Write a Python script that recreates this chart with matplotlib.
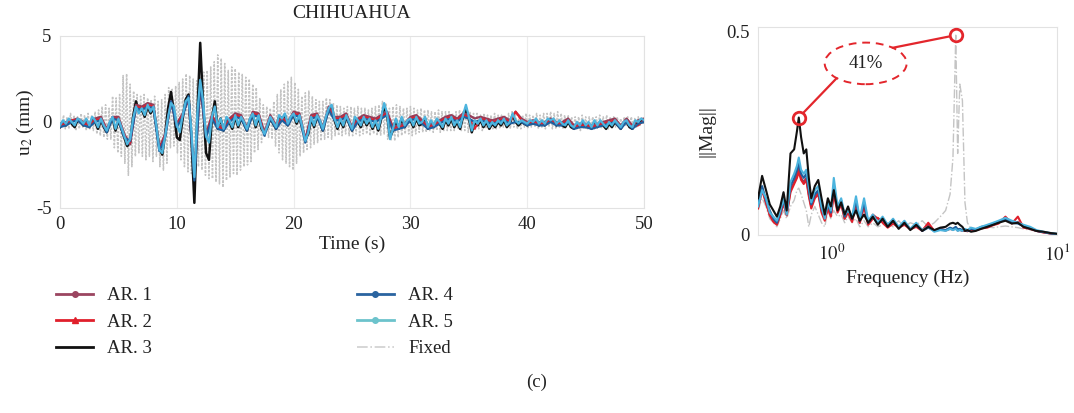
import numpy as np
import matplotlib
matplotlib.use("Agg")
import matplotlib.pyplot as plt
from matplotlib.lines import Line2D
from matplotlib.patches import Ellipse

plt.rcParams['font.family'] = ['Liberation Serif', 'DejaVu Serif']
plt.rcParams['mathtext.fontset'] = 'stix'
plt.rcParams['axes.unicode_minus'] = False

# ---- time histories (u2, mm) ----
dt_fine = 0.25
ar5 = [-0.2, 0.1, -0.1, 0.2, 0.0, -0.2, 0.2, 0.1, -0.1, 0.2, -0.2, 0.3, 0.1, -0.3, 0.2, -0.2,
       -0.5, 0.0, 0.3, -0.4, 0.2, -0.3, -0.8, -1.3, -1.0, 0.2, 0.9, 0.5, 0.8, 0.4, 1.0, 0.6,
       0.9, -0.2, -1.6, -1.8, -0.8, 0.3, 1.1, 0.9, -0.2, -0.6, 0.4, 1.2, 1.4, -0.5, -3.2, 0.5,
       2.45, 1.2, -0.8, -1.2, 0.3, 0.9, -0.3, 0.2, -0.4, 0.3, 0.1, -0.3, 0.4, -0.2, 0.3, 0.0,
       -0.4, 0.2, 0.5, -0.2, 0.4, -0.3, -0.7, -0.2, 0.3, 0.0, -0.3, 0.4, 0.2, 0.5, -0.1, 0.3,
       0.5, 0.0, 0.4, -0.3, -1.1, -0.6, 0.3, -0.2, 0.4, 0.1, -0.4, 0.3, 0.8, 1.0, 0.2, -0.3,
       0.2, -0.2, 0.4, 0.0, -0.4, 0.3, 0.1, -0.2, 0.3, -0.1, 0.2, -0.3, 0.1, -0.4, 0.3, 1.1,
       0.5, -1.0, -0.4, 0.2, -0.3, 0.3, -0.2, 0.1, 0.2, -0.2, 0.3, -0.1, 0.0, 0.3, -0.3, 0.1,
       -0.2, 0.2, 0.0, -0.3, 0.2, -0.1, 0.3, -0.2, 0.1, -0.3, 0.4, 1.0, 0.3, -0.5, 0.1, -0.1,
       0.2, -0.2, 0.1, -0.3, 0.0, -0.2, 0.1, -0.1, 0.2, -0.2, 0.0, 0.5, 0.1, -0.1, 0.1, 0.0,
       -0.1, 0.1, 0.0, 0.2, -0.1, 0.1, -0.1, 0.2, 0.1, 0.2, -0.1, 0.1, -0.1, -0.2, 0.1, -0.2,
       -0.3, 0.0, -0.2, 0.1, -0.2, 0.0, -0.3, 0.1, -0.2, 0.1, -0.1, -0.3, 0.0, -0.2, 0.1, -0.1,
       -0.3, 0.0, 0.1, -0.2, -0.3, 0.1, 0.0, 0.2, 0.1]
ar3 = [-0.3, 0.0, -0.2, 0.1, -0.1, -0.3, 0.1, 0.0, -0.2, 0.1, -0.3, 0.2, 0.0, -0.4, 0.1, -0.3,
       -0.6, -0.1, 0.2, -0.5, 0.1, -0.4, -0.9, -1.4, -1.2, 0.3, 1.2, 0.6, 0.7, 0.3, 0.9, 0.5,
       0.8, -0.3, -1.5, -1.9, -0.7, 0.8, 1.75, 0.6, -0.9, -1.05, 0.2, 1.3, 1.6, -1.0, -4.7, 0.3,
       4.6, 1.0, -1.8, -2.2, 0.2, 1.2, -0.4, 0.2, -0.5, 0.2, 0.0, -0.4, 0.3, -0.3, 0.2, -0.1,
       -0.5, 0.1, 0.4, -0.3, 0.3, -0.4, -0.6, -0.3, 0.2, -0.1, -0.4, 0.3, 0.1, 0.4, -0.2, 0.2,
       0.4, -0.1, 0.3, -0.4, -1.0, -0.7, 0.2, -0.3, 0.3, 0.0, -0.5, 0.2, 0.7, 0.9, 0.1, -0.4,
       0.1, -0.3, 0.3, -0.1, -0.5, 0.2, 0.0, -0.3, 0.2, -0.2, 0.1, -0.4, 0.0, -0.5, 0.2, 0.9,
       0.4, -0.9, -0.5, 0.1, -0.4, 0.2, -0.3, 0.0, 0.1, -0.3, 0.2, -0.2, -0.1, 0.2, -0.4, 0.0,
       -0.3, 0.1, -0.1, -0.4, 0.1, -0.2, 0.2, -0.3, 0.0, -0.4, 0.3, 0.8, 0.2, -0.6, 0.0, -0.2,
       0.1, -0.3, 0.0, -0.4, -0.1, -0.3, 0.0, -0.2, 0.1, -0.3, -0.1, 0.4, 0.0, -0.2, 0.0, -0.1,
       -0.2, 0.0, -0.1, 0.1, -0.2, 0.0, -0.2, 0.1, 0.0, 0.1, -0.2, 0.0, -0.2, -0.3, 0.0, -0.3,
       -0.4, -0.1, -0.3, 0.0, -0.3, -0.1, -0.4, 0.0, -0.3, 0.0, -0.2, -0.4, -0.1, -0.3, 0.0, -0.2,
       -0.4, -0.1, 0.0, -0.3, -0.4, 0.0, -0.1, 0.1, 0.0]

dt_coarse = 0.5
ar1 = [-0.1, 0.0, 0.1, 0.2, 0.0, -0.1, 0.2, 0.3, -0.4, 0.3,
       0.3, -0.7, -1.3, 1.0, 0.9, 1.1, 1.0, -1.5, -0.7, 1.2,
       -0.1, 0.5, 1.3, -3.0, 2.0, -0.7, 0.4, -0.2, -0.3, 0.2,
       0.5, 0.4, -0.3, 0.6, 0.5, -0.6, 0.4, -0.2, 0.3, 0.0,
       0.6, 0.5, -1.0, 0.4, 0.5, -0.3, 0.9, 0.3, 0.3, 0.5,
       -0.3, 0.2, 0.4, 0.3, 0.2, 0.4, 0.6, -0.3, -0.2, -0.1,
       0.3, 0.4, 0.1, -0.2, -0.1, 0.1, 0.3, 0.4, 0.2, 0.5,
       0.4, 0.2, 0.3, 0.2, 0.1, 0.2, 0.3, 0.1, 0.6, 0.2,
       0.0, 0.1, 0.0, 0.0, 0.2, 0.0, 0.0, 0.2, -0.2, -0.1,
       -0.1, -0.2, -0.1, 0.0, 0.1, 0.2, -0.2, 0.2, -0.2, 0.1, 0.2]
ar2 = [-0.2, -0.1, 0.1, 0.1, -0.1, -0.2, 0.1, 0.2, -0.5, 0.2,
       0.2, -0.8, -1.2, 0.9, 0.8, 1.0, 0.9, -1.6, -0.8, 1.1,
       -0.2, 0.4, 1.4, -3.1, 2.2, -0.8, 0.3, -0.3, -0.4, 0.1,
       0.4, 0.3, -0.4, 0.5, 0.4, -0.7, 0.3, -0.3, 0.2, -0.1,
       0.5, 0.4, -1.1, 0.3, 0.4, -0.4, 0.8, 0.2, 0.2, 0.4,
       -0.4, 0.1, 0.3, 0.2, 0.1, 0.3, 0.5, -0.4, -0.3, -0.2,
       0.2, 0.3, 0.0, -0.3, -0.2, 0.0, 0.2, 0.3, 0.1, 0.4,
       0.3, -0.4, 0.2, 0.1, 0.0, 0.1, 0.2, 0.0, 0.6, 0.1,
       -0.1, 0.0, -0.1, -0.1, 0.1, -0.1, -0.1, 0.1, -0.3, -0.2,
       -0.2, -0.3, -0.2, -0.1, 0.0, 0.1, -0.3, 0.1, -0.3, -0.2, 0.1]
ar4 = [-0.3, -0.2, 0.0, 0.1, -0.2, -0.3, 0.0, 0.1, -0.6, 0.2,
       0.1, -0.9, -1.1, 0.8, 0.7, 0.9, 0.8, -1.7, -0.9, 1.2,
       -0.3, 0.3, 1.5, -3.4, 2.3, -0.9, 0.2, -0.4, -0.5, 0.0,
       0.3, 0.2, -0.5, 0.4, 0.3, -0.8, 0.2, -0.4, 0.1, -0.2,
       0.4, 0.3, -1.2, 0.2, 0.3, -0.5, 0.7, 0.1, 0.1, 0.3,
       -0.5, 0.0, 0.2, 0.1, 0.0, 0.2, 0.4, -0.5, -0.4, -0.3,
       0.1, 0.2, -0.1, -0.4, -0.3, -0.1, 0.1, 0.2, 0.0, 0.3,
       0.2, 0.0, 0.1, 0.0, -0.1, 0.0, 0.1, -0.1, 0.0, 0.0,
       -0.2, -0.1, -0.2, -0.2, 0.0, -0.2, -0.2, 0.0, -0.4, -0.3,
       -0.3, -0.4, -0.3, -0.2, -0.1, 0.0, -0.4, 0.0, -0.4, -0.1, 0.0]

# fixed base: upper / lower swing every 0.3 s
dt_fixed = 0.3
fixed_up = [0.3, 0.4, 0.3, 0.5, 0.4, 0.3, 0.5, 0.4, 0.5, 0.4,
            0.6, 0.7, 0.9, 1.0, 0.8,
            1.5, 1.4, 1.6,
            2.7, 2.8, 2.2,
            1.8, 1.6, 1.5,
            1.6, 1.4, 1.3, 1.5,
            1.2, 1.3, 1.6,
            2.0, 1.9, 2.1, 2.3, 2.5, 2.8, 2.7, 2.5, 2.4, 2.6, 2.9, 3.0,
            3.2, 3.5, 3.9, 3.7, 3.4, 3.0, 3.2, 3.1, 2.9, 2.8, 2.6, 2.5,
            2.2, 2.0, 1.4, 1.0, 0.9, 0.8, 1.2, 1.6, 1.9, 2.2, 2.4, 2.6,
            2.3, 1.9, 1.5, 1.7, 1.8, 1.5, 1.3, 1.2, 1.2, 1.4, 1.3, 1.1,
            1.0, 0.9, 0.8, 0.9, 0.9, 0.8, 0.9, 0.8, 0.8, 0.7, 0.8, 0.9,
            1.0, 1.2, 1.1, 0.8, 0.9, 1.0, 0.9, 0.8, 0.8, 0.9, 0.8, 0.7,
            0.8, 0.7, 0.7, 0.6, 0.6, 0.7, 0.6, 0.6, 0.6, 0.5, 0.6, 0.7,
            0.6, 0.8, 0.6, 0.5, 0.5, 0.4, 0.5, 0.4, 0.4, 0.5, 0.4, 0.4,
            0.4, 0.5, 0.6, 0.5, 0.4, 0.4, 0.5, 0.4, 0.4, 0.5, 0.4, 0.5,
            0.5, 0.6, 0.5, 0.6, 0.5, 0.4, 0.4, 0.3, 0.3, 0.3, 0.4, 0.3,
            0.3, 0.3, 0.3, 0.4, 0.3, 0.4, 0.3, 0.3, 0.3, 0.2, 0.3, 0.3,
            0.3, 0.2, 0.3, 0.3]
fixed_dn = [-0.3, -0.4, -0.4, -0.3, -0.5, -0.4, -0.3, -0.5, -0.4, -0.5,
            -0.7, -0.8, -0.9, -1.0, -1.0,
            -1.5, -1.8, -2.0,
            -2.4, -3.1, -2.6,
            -2.0, -1.8, -2.0,
            -2.2, -2.0, -2.3, -2.0,
            -2.6, -2.8, -2.4,
            -1.5, -1.4, -1.8, -2.2, -2.6, -2.9, -3.0, -2.8, -2.6, -2.8, -3.1, -3.3,
            -3.3, -3.5, -3.6, -3.8, -3.4, -3.2, -3.0, -3.1, -2.8, -2.6, -2.5, -2.3,
            -1.8, -1.6, -1.2, -0.9, -0.9, -1.0, -1.4, -1.8, -2.2, -2.4, -2.6, -2.8,
            -2.4, -2.0, -1.8, -1.6, -1.5, -1.3, -1.2, -1.1, -1.0, -0.9, -1.0, -0.8,
            -0.8, -0.8, -0.7, -0.8, -0.8, -0.7, -0.8, -0.7, -0.7, -0.8, -0.7, -0.8,
            -0.8, -0.7, -1.0, -1.1, -1.1, -0.9, -0.8, -0.7, -0.7, -0.8, -0.7, -0.6,
            -0.6, -0.6, -0.5, -0.6, -0.5, -0.6, -0.5, -0.5, -0.5, -0.5, -0.4, -0.5,
            -0.5, -0.6, -0.6, -0.5, -0.4, -0.5, -0.4, -0.4, -0.4, -0.4, -0.4, -0.3,
            -0.3, -0.4, -0.3, -0.4, -0.4, -0.3, -0.4, -0.3, -0.3, -0.4, -0.3, -0.4,
            -0.3, -0.4, -0.4, -0.3, -0.4, -0.3, -0.3, -0.4, -0.4, -0.5, -0.4, -0.4,
            -0.4, -0.4, -0.3, -0.4, -0.3, -0.4, -0.3, -0.3, -0.3, -0.3, -0.2, -0.3,
            -0.2, -0.3, -0.2, -0.2]

# ---- Fourier magnitude ----
freq = [0.47, 0.49, 0.51, 0.53, 0.55, 0.57, 0.59, 0.61, 0.63, 0.655, 0.68, 0.70, 0.713,
        0.73, 0.75, 0.77, 0.79, 0.81, 0.84, 0.87, 0.90, 0.93, 0.96, 0.99, 1.02, 1.06,
        1.10, 1.14, 1.18, 1.23, 1.28, 1.33, 1.39, 1.45, 1.52, 1.60, 1.68, 1.77, 1.87,
        1.98, 2.10, 2.23, 2.37, 2.52, 2.68, 2.85, 3.03, 3.2, 3.35, 3.45, 3.55, 3.62,
        3.7, 3.8, 3.9, 4.0, 4.15, 4.35, 4.6, 4.9, 5.2, 5.5, 5.9, 6.3, 6.7, 7.1, 7.6,
        8.1, 8.7, 9.3, 10.0]
mag_ar3 = [0.09, 0.145, 0.11, 0.075, 0.06, 0.045, 0.07, 0.105, 0.06, 0.20, 0.21, 0.255, 0.288,
           0.24, 0.2, 0.21, 0.14, 0.09, 0.12, 0.135, 0.09, 0.05, 0.09, 0.07, 0.11, 0.06,
           0.08, 0.05, 0.07, 0.04, 0.06, 0.035, 0.05, 0.03, 0.045, 0.025, 0.04, 0.02, 0.035,
           0.015, 0.03, 0.012, 0.025, 0.01, 0.02, 0.012, 0.018, 0.02, 0.028, 0.03, 0.027, 0.03,
           0.025, 0.02, 0.01, 0.012, 0.008, 0.01, 0.015, 0.02, 0.025, 0.03, 0.035, 0.028, 0.03,
           0.02, 0.015, 0.01, 0.008, 0.005, 0.003]
mag_ar5 = [0.07, 0.11, 0.09, 0.055, 0.045, 0.035, 0.06, 0.09, 0.05, 0.13, 0.15, 0.17, 0.19,
           0.16, 0.15, 0.16, 0.12, 0.08, 0.11, 0.12, 0.07, 0.04, 0.08, 0.06, 0.14, 0.07,
           0.09, 0.05, 0.06, 0.045, 0.095, 0.04, 0.09, 0.035, 0.05, 0.03, 0.045, 0.025, 0.04,
           0.02, 0.035, 0.015, 0.03, 0.012, 0.02, 0.008, 0.012, 0.01, 0.015, 0.012, 0.015, 0.01,
           0.012, 0.01, 0.015, 0.012, 0.018, 0.015, 0.02, 0.025, 0.03, 0.035, 0.042, 0.035, 0.03,
           0.025, 0.02, 0.012, 0.008, 0.005, 0.003]
mag_ar4 = [0.075, 0.12, 0.085, 0.06, 0.04, 0.03, 0.055, 0.085, 0.055, 0.12, 0.14, 0.16, 0.175,
           0.15, 0.14, 0.15, 0.11, 0.075, 0.10, 0.11, 0.065, 0.045, 0.075, 0.055, 0.12, 0.065,
           0.085, 0.045, 0.065, 0.04, 0.085, 0.035, 0.08, 0.03, 0.045, 0.028, 0.04, 0.022, 0.035,
           0.018, 0.03, 0.014, 0.025, 0.01, 0.018, 0.01, 0.014, 0.012, 0.018, 0.015, 0.02, 0.014,
           0.015, 0.012, 0.012, 0.01, 0.015, 0.013, 0.02, 0.022, 0.028, 0.032, 0.038, 0.03, 0.028,
           0.022, 0.018, 0.01, 0.007, 0.004, 0.002]
mag_ar1 = [0.068, 0.115, 0.08, 0.05, 0.035, 0.028, 0.05, 0.08, 0.05, 0.11, 0.13, 0.15, 0.165,
           0.14, 0.13, 0.14, 0.10, 0.07, 0.095, 0.105, 0.06, 0.04, 0.07, 0.05, 0.11, 0.06,
           0.08, 0.04, 0.06, 0.035, 0.08, 0.03, 0.075, 0.028, 0.05, 0.04, 0.035, 0.02, 0.03,
           0.02, 0.028, 0.015, 0.022, 0.012, 0.025, 0.01, 0.015, 0.012, 0.016, 0.014, 0.018, 0.012,
           0.014, 0.01, 0.012, 0.01, 0.014, 0.012, 0.018, 0.02, 0.026, 0.03, 0.04, 0.03, 0.032,
           0.02, 0.016, 0.01, 0.007, 0.004, 0.002]
mag_ar2 = [0.065, 0.11, 0.078, 0.048, 0.032, 0.025, 0.048, 0.078, 0.048, 0.105, 0.125, 0.14, 0.155,
           0.135, 0.125, 0.135, 0.095, 0.065, 0.09, 0.1, 0.055, 0.035, 0.065, 0.045, 0.10, 0.055,
           0.075, 0.04, 0.055, 0.032, 0.075, 0.03, 0.07, 0.025, 0.04, 0.042, 0.03, 0.018, 0.028,
           0.018, 0.025, 0.014, 0.02, 0.01, 0.03, 0.01, 0.014, 0.011, 0.015, 0.013, 0.017, 0.011,
           0.013, 0.01, 0.011, 0.009, 0.013, 0.011, 0.016, 0.018, 0.024, 0.028, 0.045, 0.028, 0.045,
           0.018, 0.015, 0.01, 0.006, 0.004, 0.002]
mag_fixed = [0.06, 0.09, 0.07, 0.04, 0.03, 0.02, 0.04, 0.06, 0.04, 0.07, 0.085, 0.11, 0.115,
             0.1, 0.08, 0.06, 0.02, 0.05, 0.07, 0.05, 0.03, 0.02, 0.06, 0.04, 0.06, 0.045,
             0.05, 0.03, 0.045, 0.03, 0.04, 0.02, 0.035, 0.02, 0.03, 0.02, 0.025, 0.03, 0.02,
             0.035, 0.02, 0.03, 0.025, 0.035, 0.02, 0.03, 0.045, 0.06, 0.1, 0.19, 0.49, 0.2,
             0.37, 0.33, 0.08, 0.03, 0.015, 0.012, 0.015, 0.02, 0.018, 0.02, 0.022, 0.02, 0.018,
             0.015, 0.012, 0.01, 0.008, 0.006, 0.004]

labels = ['AR. 1', 'AR. 2', 'AR. 3', 'AR. 4', 'AR. 5', 'Fixed']
c_ar1, c_ar2, c_ar3, c_ar4, c_ar5 = '#963c58', '#e01f2b', '#111111', '#1f5f9e', '#4cb4de'
c_fixed = '#c4c4c4'
c_ann = '#e3262c'
txt = '#222222'
spine_c = '#e2e2e2'

fig = plt.figure(figsize=(10.74, 4.13), dpi=100)

# ---------- left: time history ----------
ax = fig.add_axes([0.0559, 0.4964, 0.5438, 0.4165])
t_fine = np.arange(len(ar5)) * dt_fine
t_coarse = np.arange(len(ar1)) * dt_coarse
n_fx = min(len(fixed_up), len(fixed_dn))
t_fx = np.arange(n_fx) * dt_fixed
fx_t = np.column_stack([t_fx, t_fx + dt_fixed / 2]).ravel()
fx_y = np.column_stack([fixed_up[:n_fx], fixed_dn[:n_fx]]).ravel()

ax.plot(fx_t, fx_y, color=c_fixed, lw=1.1, ls=(0, (1.5, 1)), zorder=2)
ax.plot(t_fine, ar3, color=c_ar3, lw=1.8, zorder=3)
ax.plot(t_coarse, ar1, color=c_ar1, lw=1.6, zorder=3)
ax.plot(t_coarse, ar2, color=c_ar2, lw=1.4, zorder=3)
ax.plot(t_coarse, ar4, color=c_ar4, lw=1.6, zorder=3)
ax.plot(t_fine, ar5, color=c_ar5, lw=1.6, zorder=4)

ax.set_xlim(0, 50)
ax.set_ylim(-5, 5)
ax.set_xticks([0, 10, 20, 30, 40, 50])
ax.set_yticks([-5, 0, 5])
ax.grid(True, axis='x', color='#ececec', lw=0.8)
ax.set_axisbelow(True)
ax.tick_params(length=0, labelsize=13.5, colors=txt, pad=6)
for s in ax.spines.values():
    s.set_color(spine_c)
ax.set_xlabel('Time (s)', fontsize=14, color=txt, labelpad=2)
ax.set_ylabel(r'u$_{2}$ (mm)', fontsize=14, color=txt, labelpad=0)
ax.set_title('CHIHUAHUA', fontsize=14, color=txt, pad=13)

# ---------- right: Fourier spectrum ----------
bx = fig.add_axes([0.7058, 0.431, 0.2784, 0.5036])
bx.plot(freq, mag_fixed, color=c_fixed, lw=1.0, ls='-.', zorder=2)
bx.plot(freq, mag_ar1, color=c_ar1, lw=1.5, zorder=3)
bx.plot(freq, mag_ar2, color=c_ar2, lw=1.5, zorder=3)
bx.plot(freq, mag_ar3, color=c_ar3, lw=1.5, zorder=4)
bx.plot(freq, mag_ar4, color=c_ar4, lw=1.5, zorder=3)
bx.plot(freq, mag_ar5, color=c_ar5, lw=1.5, zorder=3)
bx.set_xscale('log')
bx.set_xlim(0.47, 10)
bx.set_ylim(0, 0.51)
bx.set_xticks([1, 10])
bx.set_xticklabels([r'$10^0$', r'$10^1$'])
bx.xaxis.set_minor_locator(matplotlib.ticker.NullLocator())
bx.set_yticks([0, 0.5])
bx.set_yticklabels(['0', '0.5'])
bx.tick_params(length=0, labelsize=13.5, colors=txt, pad=6)
for s in bx.spines.values():
    s.set_color(spine_c)
bx.set_xlabel('Frequency (Hz)', fontsize=14, color=txt, labelpad=4)
bx.set_ylabel('||Mag||', fontsize=14, color=txt, labelpad=8)

# annotation: peaks, dashed ellipse with ratio
i3 = int(np.argmax(mag_ar3))
i0 = int(np.argmax(mag_fixed))
pk1 = (freq[i3], mag_ar3[i3])
pk2 = (freq[i0], mag_fixed[i0])
bx.add_patch(Ellipse((0.36, 0.825), 0.274, 0.2, transform=bx.transAxes, fill=False,
                     ec=c_ann, lw=1.4, ls=(0, (4, 3)), zorder=6))
bx.text(0.36, 0.825, '41%', transform=bx.transAxes, ha='center', va='center',
        fontsize=13.5, color=txt, zorder=7)
bx.annotate('', xy=pk1, xycoords='data', xytext=(0.263, 0.754), textcoords='axes fraction',
            arrowprops=dict(arrowstyle='-', color=c_ann, lw=1.6, shrinkA=0, shrinkB=5), zorder=6)
bx.annotate('', xy=pk2, xycoords='data', xytext=(0.45, 0.9), textcoords='axes fraction',
            arrowprops=dict(arrowstyle='-', color=c_ann, lw=1.6, shrinkA=0, shrinkB=5), zorder=6)
for pk in (pk1, pk2):
    bx.plot([pk[0]], [pk[1]], 'o', ms=9, mfc='none', mec=c_ann, mew=2, zorder=7, clip_on=False)

# ---------- legend ----------
handles = [
    Line2D([], [], color='#9b4560', lw=2, marker='o', ms=4),
    Line2D([], [], color=c_ar2, lw=2, marker='^', ms=5),
    Line2D([], [], color=c_ar3, lw=2),
    Line2D([], [], color='#2a64a0', lw=2, marker='o', ms=4),
    Line2D([], [], color='#6cc3cc', lw=2, marker='o', ms=4),
    Line2D([], [], color='#d0d0d0', lw=1.2, ls='-.'),
]
fig.legend(handles, labels, ncol=2, loc='upper left', bbox_to_anchor=(0.052, 0.305),
           frameon=False, fontsize=13.5, handlelength=2.0, handletextpad=0.75,
           labelspacing=0.5, columnspacing=10.9, borderpad=0, borderaxespad=0,
           labelcolor=txt, numpoints=1)

fig.text(0.5, 1 - 382 / 413, '(c)', ha='center', va='center', fontsize=13.5, color=txt)

fig.savefig('out.png', dpi=100)
